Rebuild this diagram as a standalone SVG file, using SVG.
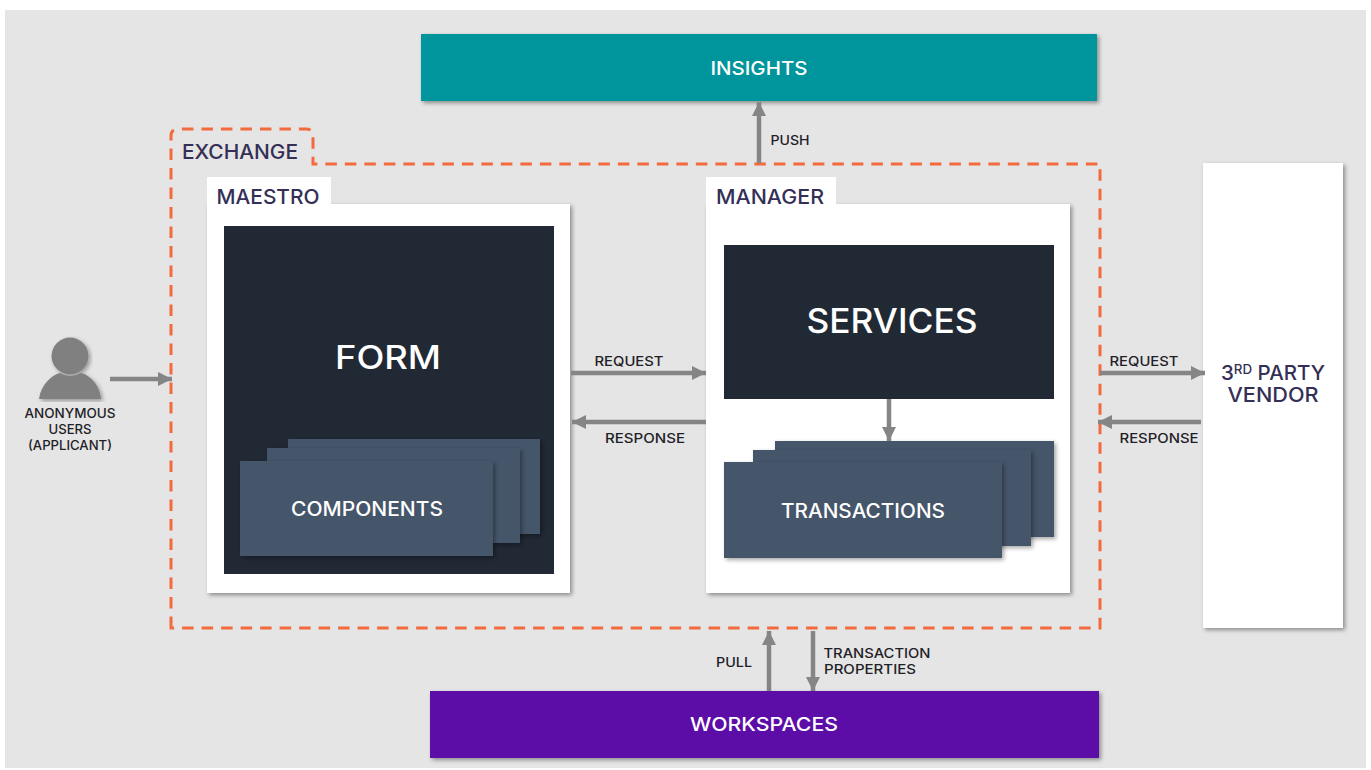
<svg xmlns="http://www.w3.org/2000/svg" width="1371" height="770" viewBox="0 0 1371 770">
<style>
text{font-family:"Inter","Liberation Sans",sans-serif;font-weight:500;text-anchor:middle}
.l{fill:#1f2127;font-size:13px}
.h{fill:#342f56;font-size:20px}
.w{fill:#fff}
.c{stroke:#858585;stroke-width:4.500;fill:none}
.dash{stroke:#f26a3d;stroke-width:3;fill:none;stroke-dasharray:11.5 8}
.navy{fill:#212935}
.slate{fill:#44546a;filter:url(#s2)}
.pane{fill:#fff;filter:url(#s1)}
</style>
<defs>
<filter id="s1" x="-10%" y="-10%" width="120%" height="120%"><feDropShadow dx="2" dy="2" stdDeviation="2" flood-color="#000" flood-opacity=".4"/></filter>
<filter id="s2" x="-10%" y="-10%" width="120%" height="120%"><feDropShadow dx="2" dy="2" stdDeviation="2" flood-color="#000" flood-opacity=".35"/></filter>
<marker id="a" markerUnits="userSpaceOnUse" markerWidth="15" markerHeight="16" refX="14" refY="7" orient="auto"><path d="M0 0L14 7L0 14Z" fill="#858585"/></marker>
</defs>
<rect width="1371" height="770" fill="#fff"/>
<rect x="5" y="10" width="1361" height="758" fill="#e5e5e5"/>

<g id="insights"><rect x="421" y="34" width="676" height="67" fill="#00959c" filter="url(#s1)"/><text class="w" x="759" y="75" font-size="19" textLength="97" lengthAdjust="spacingAndGlyphs">INSIGHTS</text></g>
<g id="workspaces"><rect x="430" y="691" width="669" height="67" fill="#5b08a8" filter="url(#s1)"/><text class="w" x="764" y="731" font-size="19" textLength="148" lengthAdjust="spacingAndGlyphs">WORKSPACES</text></g>
<g id="vendor"><rect x="1203" y="163" width="140" height="465" class="pane"/><text class="h" x="1273" y="380" textLength="104" lengthAdjust="spacingAndGlyphs">3<tspan font-size="13" dy="-6">RD</tspan><tspan dy="6"> PARTY</tspan></text><text class="h" x="1273" y="402" textLength="91" lengthAdjust="spacingAndGlyphs">VENDOR</text></g>

<g id="exchange"><path class="dash" d="M171 628V136Q171 129 178 129H306Q313 129 313 136V164H1100V628Z"/><text class="h" x="240" y="159" textLength="116" lengthAdjust="spacingAndGlyphs">EXCHANGE</text></g>

<g id="user"><circle cx="70" cy="356" r="18.500" fill="#808080" filter="url(#s2)"/><path d="M39 399C41 384 52 375 60 373Q70 379 81 373C89 375 100 384 101 399Z" fill="#808080" filter="url(#s2)"/>
<text class="l" x="70" y="418" textLength="91" lengthAdjust="spacingAndGlyphs">ANONYMOUS</text><text class="l" x="70" y="434" textLength="43" lengthAdjust="spacingAndGlyphs">USERS</text><text class="l" x="70" y="450" textLength="84" lengthAdjust="spacingAndGlyphs">(APPLICANT)</text></g>

<g id="maestro"><rect x="207" y="204" width="363" height="389" class="pane"/><rect x="207" y="177" width="124" height="30" fill="#fff"/><text class="h" x="268" y="204" textLength="103" lengthAdjust="spacingAndGlyphs">MAESTRO</text></g>
<g id="form"><rect x="224" y="226" width="330" height="348" class="navy"/><text class="w" x="388" y="369" font-size="32" textLength="106" lengthAdjust="spacingAndGlyphs">FORM</text></g>
<g id="components"><rect x="288" y="439" width="252" height="95" class="slate"/><rect x="267" y="448" width="253" height="95" class="slate"/><rect x="240" y="461" width="253" height="95" class="slate"/><text class="w" x="367" y="516" font-size="19.500" textLength="152" lengthAdjust="spacingAndGlyphs">COMPONENTS</text></g>

<g id="manager"><rect x="706" y="204" width="364" height="389" class="pane"/><rect x="706" y="177" width="130" height="30" fill="#fff"/><text class="h" x="770" y="204" textLength="108" lengthAdjust="spacingAndGlyphs">MANAGER</text></g>
<g id="services"><rect x="724" y="245" width="330" height="154" class="navy"/><text class="w" x="892" y="333" font-size="34" textLength="171" lengthAdjust="spacingAndGlyphs">SERVICES</text></g>
<g id="transactions"><rect x="775" y="441" width="279" height="96" class="slate"/><rect x="753" y="450" width="278" height="96" class="slate"/><rect x="724" y="462" width="278" height="96" class="slate"/><text class="w" x="863" y="518" font-size="19.500" textLength="164" lengthAdjust="spacingAndGlyphs">TRANSACTIONS</text></g>

<g id="connectors">
<path class="c" d="M110 379H172" marker-end="url(#a)"/>
<path class="c" d="M571 373H706" marker-end="url(#a)"/>
<path class="c" d="M706 422H572" marker-end="url(#a)"/>
<path class="c" d="M1100 373H1205" marker-end="url(#a)"/>
<path class="c" d="M1201 422H1098" marker-end="url(#a)"/>
<path class="c" d="M759 163V102" marker-end="url(#a)"/>
<path class="c" d="M889 399V441" marker-end="url(#a)"/>
<path class="c" d="M769 691V631" marker-end="url(#a)"/>
<path class="c" d="M813 631V691" marker-end="url(#a)"/>
</g>
<g id="labels">
<text class="l" x="790" y="145" textLength="39" lengthAdjust="spacingAndGlyphs">PUSH</text>
<text class="l" x="629" y="366" textLength="69" lengthAdjust="spacingAndGlyphs">REQUEST</text>
<text class="l" x="645" y="443" textLength="80" lengthAdjust="spacingAndGlyphs">RESPONSE</text>
<text class="l" x="1144" y="366" textLength="69" lengthAdjust="spacingAndGlyphs">REQUEST</text>
<text class="l" x="1159" y="443" textLength="79" lengthAdjust="spacingAndGlyphs">RESPONSE</text>
<text class="l" x="734" y="667" textLength="36" lengthAdjust="spacingAndGlyphs">PULL</text>
<text class="l" x="877" y="658" textLength="107" lengthAdjust="spacingAndGlyphs">TRANSACTION</text>
<text class="l" x="870" y="674" textLength="92" lengthAdjust="spacingAndGlyphs">PROPERTIES</text>
</g>
</svg>
